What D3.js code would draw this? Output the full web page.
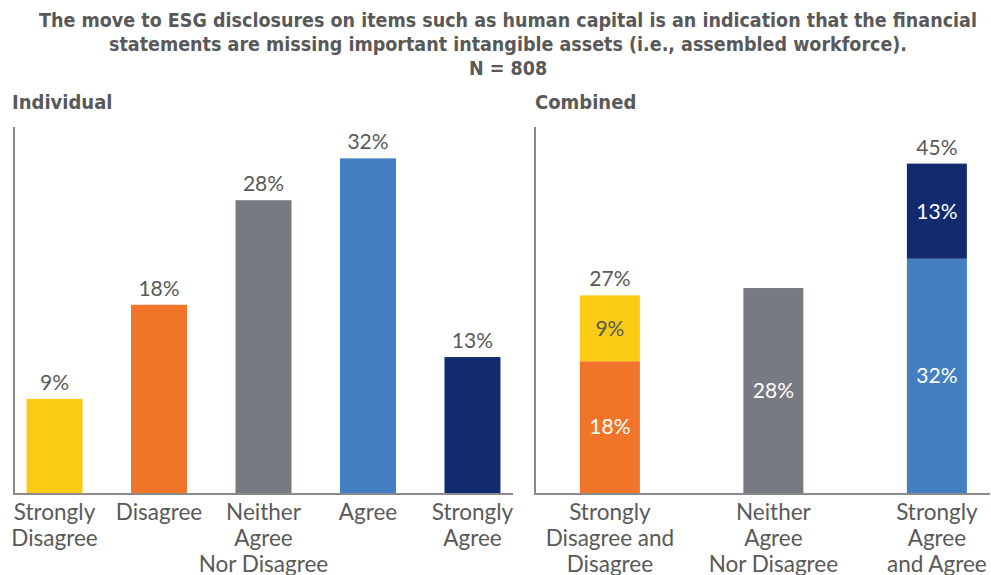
<!DOCTYPE html>
<html>
<head>
<meta charset="utf-8">
<script src="https://cdn.jsdelivr.net/npm/d3@7"></script>
<style>
  html, body { margin: 0; padding: 0; background: #fff; }
  svg { display: block; }
</style>
</head>
<body>
<svg id="chart" width="991" height="575"></svg>
<script>
// ---- data ----
const titleLines = [
  "The move to ESG disclosures on items such as human capital is an indication that the financial",
  "statements are missing important intangible assets (i.e., assembled workforce).",
  "N = 808"
];
const panelTitles = ["Individual", "Combined"];

const individualCategories = [
  ["Strongly", "Disagree"],
  ["Disagree"],
  ["Neither", "Agree", "Nor Disagree"],
  ["Agree"],
  ["Strongly", "Agree"]
];
const individualValues = [9, 18, 28, 32, 13];
const individualColors = ["#F9CB15", "#F17528", "#787A82", "#437FC1", "#112B6E"];

const combinedCategories = [
  ["Strongly", "Disagree and", "Disagree"],
  ["Neither", "Agree", "Nor Disagree"],
  ["Strongly", "Agree", "and Agree"]
];
// lower and upper stack segments
const combinedLower = [18, 28, 32];
const combinedUpper = [9, 0, 13];
const combinedLowerColors = ["#F17528", "#787A82", "#437FC1"];
const combinedUpperColors = ["#F9CB15", "#787A82", "#112B6E"];
const combinedTotals = [27, null, 45];

// ---- layout ----
const svg = d3.select("#chart");
const textColor = "#595959";
const labelFont = "Lato, 'Open Sans', sans-serif";
const titleFont = "'DejaVu Sans Condensed', 'Liberation Sans Narrow', 'Open Sans', sans-serif";
const baseY = 493, topY = 127;

// title
const title = svg.append("g")
  .attr("font-family", titleFont)
  .attr("font-weight", "bold")
  .attr("font-stretch", "condensed")
  .attr("fill", textColor)
  .attr("text-anchor", "middle");
titleLines.forEach((t, i) => {
  title.append("text")
    .attr("x", 508)
    .attr("y", 27 + i * 24)
    .attr("font-size", 19.5)
    .text(t);
});

// panel headings
[[12, panelTitles[0]], [535, panelTitles[1]]].forEach(([x, t]) => {
  svg.append("text")
    .attr("x", x).attr("y", 109)
    .attr("font-family", titleFont)
    .attr("font-weight", "bold")
    .attr("font-stretch", "condensed")
    .attr("font-size", 20)
    .attr("fill", textColor)
    .text(t);
});

function drawAxes(x0, x1) {
  svg.append("line").attr("x1", x0).attr("x2", x0).attr("y1", topY).attr("y2", baseY + 1)
    .attr("stroke", "#8a8a8a").attr("stroke-width", 2);
  svg.append("line").attr("x1", x0 - 1).attr("x2", x1).attr("y1", baseY + 1).attr("y2", baseY + 1)
    .attr("stroke", "#8a8a8a").attr("stroke-width", 2);
}

function drawCategoryLabels(xScale, cats) {
  cats.forEach((lines, i) => {
    const cx = xScale(i) + xScale.bandwidth() / 2;
    lines.forEach((ln, j) => {
      svg.append("text")
        .attr("x", cx)
        .attr("y", 520 + j * 26)
        .attr("text-anchor", "middle")
        .attr("font-family", labelFont)
        .attr("font-size", 22.5)
        .attr("fill", textColor)
        .text(ln);
    });
  });
}

// ---- left panel: individual ----
const xL = d3.scaleBand()
  .domain(d3.range(individualValues.length))
  .range([14, 513])
  .paddingInner(0.464)
  .paddingOuter(0.12);
const yL = d3.scaleLinear().domain([0, 35]).range([baseY, topY]);

svg.append("g").selectAll("rect")
  .data(individualValues)
  .join("rect")
  .attr("x", (d, i) => xL(i))
  .attr("width", xL.bandwidth())
  .attr("y", d => yL(d))
  .attr("height", d => yL(0) - yL(d))
  .attr("fill", (d, i) => individualColors[i]);

svg.append("g").selectAll("text")
  .data(individualValues)
  .join("text")
  .attr("x", (d, i) => xL(i) + xL.bandwidth() / 2)
  .attr("y", d => yL(d) - 9)
  .attr("text-anchor", "middle")
  .attr("font-family", labelFont)
  .attr("font-size", 21)
  .attr("fill", textColor)
  .text(d => d + "%");

drawAxes(14, 513);
drawCategoryLabels(xL, individualCategories);

// ---- right panel: combined (stacked) ----
const xR = d3.scaleBand()
  .domain(d3.range(combinedLower.length))
  .range([535, 990])
  .paddingInner(0.633)
  .paddingOuter(0.208)
  .align(0.66);
const yR = d3.scaleLinear().domain([0, 50]).range([baseY, topY]);

const segs = [];
combinedLower.forEach((v, i) => {
  segs.push({ i, y0: 0, y1: v, v, color: combinedLowerColors[i], tc: "#ffffff" });
  if (combinedUpper[i] > 0) {
    segs.push({ i, y0: v, y1: v + combinedUpper[i], v: combinedUpper[i],
      color: combinedUpperColors[i], tc: i === 0 ? textColor : "#ffffff" });
  }
});

svg.append("g").selectAll("rect")
  .data(segs)
  .join("rect")
  .attr("x", d => xR(d.i))
  .attr("width", xR.bandwidth())
  .attr("y", d => yR(d.y1))
  .attr("height", d => yR(d.y0) - yR(d.y1))
  .attr("fill", d => d.color);

svg.append("g").selectAll("text")
  .data(segs)
  .join("text")
  .attr("x", d => xR(d.i) + xR.bandwidth() / 2)
  .attr("y", d => (yR(d.y0) + yR(d.y1)) / 2)
  .attr("dy", "0.35em")
  .attr("text-anchor", "middle")
  .attr("font-family", labelFont)
  .attr("font-size", 21)
  .attr("fill", d => d.tc)
  .text(d => d.v + "%");

svg.append("g").selectAll("text")
  .data(combinedTotals.map((t, i) => ({ t, i })).filter(d => d.t !== null))
  .join("text")
  .attr("x", d => xR(d.i) + xR.bandwidth() / 2)
  .attr("y", d => yR(d.t) - 9)
  .attr("text-anchor", "middle")
  .attr("font-family", labelFont)
  .attr("font-size", 21)
  .attr("fill", textColor)
  .text(d => d.t + "%");

drawAxes(535, 990);
drawCategoryLabels(xR, combinedCategories);
</script>
</body>
</html>
